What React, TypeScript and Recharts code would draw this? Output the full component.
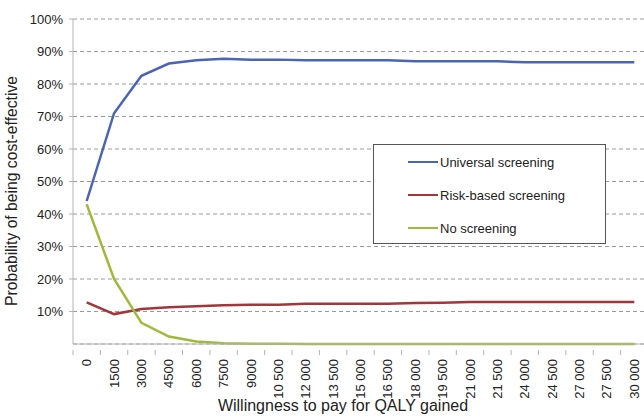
import { LineChart, Line, XAxis, YAxis, CartesianGrid } from 'recharts';

const categories = [
  '0', '1500', '3000', '4500', '6000', '7500', '9000', '10 500', '12 000', '13 500', '15 000',
  '16 500', '18 000', '19 500', '21 000', '21 500', '24 000', '24 500', '27 000', '27 500', '30 000',
];
const universal = [
  44, 71, 82.5, 86.3, 87.3, 87.8, 87.5, 87.5, 87.3, 87.3, 87.3,
  87.3, 87, 87, 87, 87, 86.7, 86.7, 86.7, 86.7, 86.7,
];
const riskBased = [
  12.8, 9.2, 10.8, 11.3, 11.6, 11.9, 12.1, 12.1, 12.4, 12.4, 12.4,
  12.4, 12.6, 12.7, 12.9, 12.9, 12.9, 12.9, 12.9, 12.9, 12.9,
];
const noScreening = [
  43, 20, 6.5, 2.3, 0.8, 0.2, 0.1, 0.1, 0, 0, 0,
  0, 0, 0, 0, 0, 0, 0, 0, 0, 0,
];
const yTicks = [10, 20, 30, 40, 50, 60, 70, 80, 90, 100];

const SERIES = [
  { key: 'universal', name: 'Universal screening', color: '#4a64b6' },
  { key: 'riskBased', name: 'Risk-based screening', color: '#a2363a' },
  { key: 'none', name: 'No screening', color: '#9dbb3a' },
];

const data = categories.map((c, i) => ({
  wtp: c,
  universal: universal[i],
  riskBased: riskBased[i],
  none: noScreening[i],
}));

const WIDTH = 648;
const HEIGHT = 416;
const LEFT = 73;
const BAND = (WIDTH - LEFT) / categories.length;
const FONT = 'Liberation Sans, Arial, sans-serif';
const AXIS_GRAY = '#b4b4b4';

function XTick({ x, y, payload, index }: any) {
  const last = index === categories.length - 1;
  return (
    <g>
      <line x1={x - BAND / 2} y1={y - 2} x2={x - BAND / 2} y2={y + 3} stroke={AXIS_GRAY} />
      {last && <line x1={x + BAND / 2} y1={y - 2} x2={x + BAND / 2} y2={y + 3} stroke={AXIS_GRAY} />}
      <text
        x={x}
        y={y + 7}
        transform={`rotate(-90 ${x} ${y + 7})`}
        textAnchor="end"
        dy="0.35em"
        fontSize={13}
        fill="#222"
        fontFamily={FONT}
      >
        {payload.value}
      </text>
    </g>
  );
}

function LegendBox() {
  return (
    <div
      style={{
        position: 'absolute',
        left: 373,
        top: 144,
        width: 231,
        height: 98,
        border: '1px solid #555',
        background: '#fff',
        fontFamily: FONT,
        fontSize: 13,
        color: '#222',
      }}
    >
      {SERIES.map((s, i) => (
        <div
          key={s.key}
          style={{ position: 'absolute', left: 34, top: 8 + i * 33, height: 18, display: 'flex', alignItems: 'center' }}
        >
          <span style={{ display: 'inline-block', width: 30, height: 2.5, background: s.color, marginRight: 2 }} />
          <span>{s.name}</span>
        </div>
      ))}
    </div>
  );
}

export default function App() {
  return (
    <div style={{ position: 'absolute', left: 0, top: 0, width: 644, height: 416, overflow: 'hidden', background: '#fff' }}>
      <LineChart width={WIDTH} height={HEIGHT} data={data} margin={{ top: 19, right: 0, left: 0, bottom: 0 }}>
        <CartesianGrid vertical={false} stroke="#9a9a9a" strokeDasharray="4 3" />
        <XAxis
          dataKey="wtp"
          interval={0}
          height={72}
          tickLine={false}
          stroke={AXIS_GRAY}
          padding={{ left: BAND / 2, right: BAND / 2 }}
          tick={<XTick />}
        />
        <YAxis
          width={LEFT}
          domain={[0, 100]}
          ticks={yTicks}
          tickFormatter={(v) => `${v}%`}
          tickSize={4}
          tickMargin={6}
          stroke={AXIS_GRAY}
          tick={{ fontSize: 13, fill: '#222', fontFamily: FONT }}
        />
        {SERIES.map((s) => (
          <Line
            key={s.key}
            dataKey={s.key}
            name={s.name}
            stroke={s.color}
            strokeWidth={2.5}
            dot={false}
            type="linear"
            isAnimationActive={false}
          />
        ))}
        <text x={343} y={411} textAnchor="middle" fontSize={16} fill="#222" fontFamily={FONT}>
          Willingness to pay for QALY gained
        </text>
        <text
          x={12}
          y={191}
          transform="rotate(-90 12 191)"
          textAnchor="middle"
          dy="0.35em"
          fontSize={15.7}
          fill="#222"
          fontFamily={FONT}
        >
          Probability of being cost-effective
        </text>
      </LineChart>
      <LegendBox />
    </div>
  );
}
